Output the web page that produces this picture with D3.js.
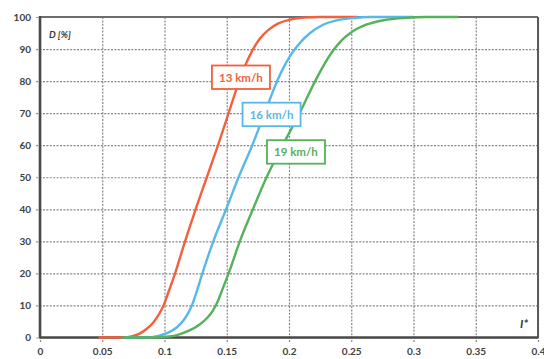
<!DOCTYPE html>
<html>
<head>
<meta charset="utf-8">
<script src="https://cdn.jsdelivr.net/npm/d3@7"></script>
<style>
  html, body { margin: 0; padding: 0; background: #fff; }
  svg { display: block; }
  text { font-family: Lato, "Open Sans", "DejaVu Sans", sans-serif; }
</style>
</head>
<body>
<svg id="chart" width="544" height="359"></svg>
<script>
// Cumulative distribution D [%] against I* for three speeds
const speeds = ["13 km/h", "16 km/h", "19 km/h"];
const colors = ["#f2603c", "#58b8e8", "#55b15a"];

const iRed   = [0.047, 0.066, 0.075, 0.080, 0.086, 0.091, 0.0955, 0.0995, 0.1035, 0.1085, 0.1165, 0.1250, 0.1340, 0.1430, 0.1515, 0.1600, 0.1650, 0.1705, 0.1765, 0.1835, 0.1915, 0.2010, 0.2120, 0.2250, 0.255];
const dRed   = [0, 0, 0.5, 1.2, 2.8, 4.7, 7.2, 10.2, 14.5, 20, 30, 40, 50, 60, 70, 80, 85, 89.5, 93.2, 96, 98, 99.2, 99.8, 100, 100];

const iBlue  = [0.068, 0.085, 0.095, 0.103, 0.110, 0.115, 0.119, 0.1225, 0.126, 0.130, 0.1392, 0.1495, 0.1595, 0.1705, 0.1805, 0.1905, 0.1960, 0.2020, 0.2090, 0.2170, 0.2270, 0.2390, 0.2520, 0.2650, 0.300];
const dBlue  = [0, 0, 0.5, 1.5, 3.2, 5.2, 7.6, 10.5, 14.5, 19.5, 30, 40, 50, 60, 70, 80, 84.5, 88.5, 92, 95, 97.5, 99, 99.7, 100, 100];

const iGreen = [0.066, 0.090, 0.104, 0.112, 0.120, 0.128, 0.134, 0.139, 0.143, 0.147, 0.1515, 0.1605, 0.1710, 0.1820, 0.1950, 0.2085, 0.2210, 0.2280, 0.2350, 0.2425, 0.2510, 0.2620, 0.2760, 0.2920, 0.3100, 0.336];
const dGreen = [0, 0, 0.3, 1.0, 2.2, 4, 6, 8.5, 11.5, 15.5, 20, 30, 40, 50, 60, 70, 80, 85, 89.3, 92.8, 95.5, 97.6, 99, 99.7, 100, 100];

// label anchors (centre of each tag, in data units)
const tagI = [0.1614, 0.1860, 0.2056];
const tagD = [81.2, 69.6, 57.9];

const xTicks = [0, 0.05, 0.1, 0.15, 0.2, 0.25, 0.3, 0.35, 0.4];
const xTickLabels = ["0", "0.05", "0.1", "0.15", "0.2", "0.25", "0.3", "0.35", "0.4"];
const yTicks = [0, 10, 20, 30, 40, 50, 60, 70, 80, 90, 100];
const yTickLabels = ["0", "10", "20", "30", "40", "50", "60", "70", "80", "90", "100"];

const seriesI = [iRed, iBlue, iGreen];
const seriesD = [dRed, dBlue, dGreen];

const svg = d3.select("#chart");
const plotL = 40, plotR = 538, plotT = 17, plotB = 337.5;

const x = d3.scaleLinear().domain([0, 0.4]).range([plotL, plotR]);
const y = d3.scaleLinear().domain([0, 100]).range([plotB, plotT]);

// vertical grid + x tick labels
const xAxis = d3.axisBottom(x)
  .tickValues(xTicks)
  .tickFormat((d, i) => xTickLabels[i])
  .tickSizeInner(plotB - plotT + 5)
  .tickSizeOuter(0)
  .tickPadding(5);
const gx = svg.append("g").attr("transform", `translate(0,${plotT})`).call(xAxis);
gx.select(".domain").remove();

// horizontal grid + y tick labels
const yAxis = d3.axisLeft(y)
  .tickValues(yTicks)
  .tickFormat((d, i) => yTickLabels[i])
  .tickSizeInner(plotR - plotL + 5)
  .tickSizeOuter(0)
  .tickPadding(4);
const gy = svg.append("g").attr("transform", `translate(${plotR},0)`).call(yAxis);
gy.select(".domain").remove();

svg.selectAll(".tick line")
  .attr("stroke", "#858585")
  .attr("stroke-width", 1.2)
  .attr("stroke-dasharray", "2,1.4");
svg.selectAll(".tick text")
  .attr("fill", "#404040")
  .style("font-size", "10px")
  .style("font-weight", "bold");

// frame
svg.append("line").attr("x1", plotL).attr("x2", plotR).attr("y1", plotT).attr("y2", plotT)
  .attr("stroke", "#6e6e6e").attr("stroke-width", 2);
svg.append("line").attr("x1", plotR).attr("x2", plotR).attr("y1", plotT).attr("y2", plotB)
  .attr("stroke", "#5a5a5a").attr("stroke-width", 2);
svg.append("line").attr("x1", plotL).attr("x2", plotL).attr("y1", plotT - 1).attr("y2", plotB + 1)
  .attr("stroke", "#4a4a4a").attr("stroke-width", 2.6);
svg.append("line").attr("x1", plotL).attr("x2", plotR).attr("y1", plotB).attr("y2", plotB)
  .attr("stroke", "#4a4a4a").attr("stroke-width", 2.6);

// curves
const line = d3.line()
  .x(d => x(d[0]))
  .y(d => y(d[1]))
  .curve(d3.curveMonotoneX);

seriesI.forEach((xs, k) => {
  const pts = xs.map((v, i) => [v, seriesD[k][i]]);
  svg.append("path")
    .datum(pts)
    .attr("d", line)
    .attr("fill", "none")
    .attr("stroke", colors[k])
    .attr("stroke-width", 2.4)
    .attr("stroke-linejoin", "round");
});

// speed tags
const tagW = 58, tagH = 23.5;
speeds.forEach((s, k) => {
  const cx = x(tagI[k]), cy = y(tagD[k]);
  const g = svg.append("g");
  g.append("rect")
    .attr("x", cx - tagW / 2).attr("y", cy - tagH / 2)
    .attr("width", tagW).attr("height", tagH)
    .attr("fill", "#fff")
    .attr("stroke", colors[k])
    .attr("stroke-width", 1.8);
  g.append("text")
    .attr("x", cx).attr("y", cy)
    .attr("text-anchor", "middle")
    .attr("dominant-baseline", "central")
    .attr("fill", colors[k])
    .style("font-size", "11.5px")
    .style("font-weight", "bold")
    .text(s);
});

// axis titles
svg.append("text")
  .attr("x", 49).attr("y", 38)
  .attr("fill", "#3a3a3a")
  .style("font-size", "9.5px")
  .style("font-weight", "bold")
  .style("font-style", "italic")
  .text("D [%]");
svg.append("text")
  .attr("x", 520).attr("y", 328)
  .attr("fill", "#3a3a3a")
  .style("font-size", "12px")
  .style("font-weight", "bold")
  .style("font-style", "italic")
  .text("I*");
</script>
</body>
</html>
